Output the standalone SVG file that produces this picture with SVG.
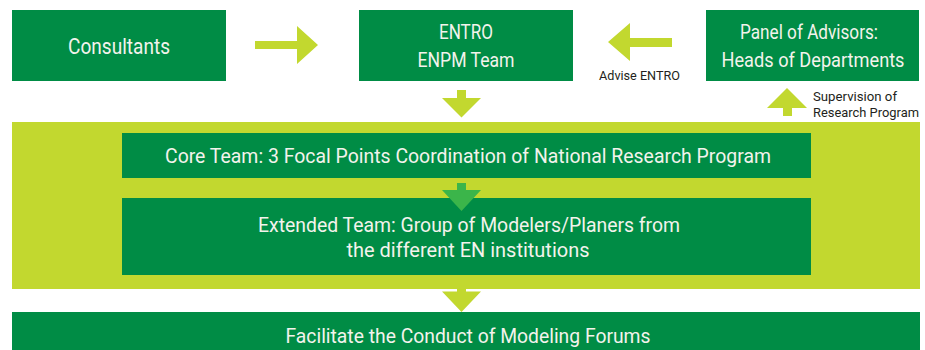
<svg xmlns="http://www.w3.org/2000/svg" width="925" height="350" viewBox="0 0 925 350">
  <defs>
    <style>
      .box { fill: #008C45; }
      .band { fill: #C2D82F; }
      .arrow { fill: #C2D82F; }
      .arrow-in { fill: #3BB54A; }
      .t { font-family: "Roboto", "Liberation Sans", "DejaVu Sans", sans-serif; fill: #F3F3EC; text-anchor: middle; }
      .note { font-family: "Roboto", "Liberation Sans", "DejaVu Sans", sans-serif; fill: #231F20; font-size: 13px; }
    </style>
  </defs>

  <rect width="925" height="350" fill="#FFFFFF"/>

  <!-- background band grouping the research teams -->
  <rect id="team-band" class="band" x="12" y="122" width="908" height="167"/>

  <g id="consultants">
    <rect class="box" x="12" y="10" width="214" height="71"/>
    <text class="t" x="119" y="54" font-size="22" textLength="102" lengthAdjust="spacingAndGlyphs">Consultants</text>
  </g>

  <g id="entro">
    <rect class="box" x="359" y="10" width="214" height="71"/>
    <text class="t" x="466" y="39" font-size="20" textLength="54" lengthAdjust="spacingAndGlyphs">ENTRO</text>
    <text class="t" x="466" y="67" font-size="20" textLength="97" lengthAdjust="spacingAndGlyphs">ENPM Team</text>
  </g>

  <g id="panel">
    <rect class="box" x="706" y="10" width="213" height="71"/>
    <text class="t" x="809" y="39" font-size="20" textLength="138" lengthAdjust="spacingAndGlyphs">Panel of Advisors:</text>
    <text class="t" x="813" y="67" font-size="19.5" textLength="183" lengthAdjust="spacingAndGlyphs">Heads of Departments</text>
  </g>

  <g id="core-team">
    <rect class="box" x="122" y="133" width="689" height="45"/>
    <text class="t" x="468" y="163" font-size="20" textLength="606" lengthAdjust="spacingAndGlyphs">Core Team: 3 Focal Points Coordination of National Research Program</text>
  </g>

  <g id="extended-team">
    <rect class="box" x="122" y="198" width="689" height="77"/>
    <text class="t" x="469" y="232" font-size="20" textLength="422" lengthAdjust="spacingAndGlyphs">Extended Team: Group of Modelers/Planers from</text>
    <text class="t" x="468" y="257" font-size="20" textLength="243" lengthAdjust="spacingAndGlyphs">the different EN institutions</text>
  </g>

  <g id="forums">
    <rect class="box" x="12" y="312" width="908" height="40"/>
    <text class="t" x="468" y="343" font-size="20" textLength="365" lengthAdjust="spacingAndGlyphs">Facilitate the Conduct of Modeling Forums</text>
  </g>

  <g id="connectors">
    <!-- Consultants to ENTRO -->
    <polygon class="arrow" points="255,41 297,41 297,26 318,45 297,64 297,49 255,49"/>
    <!-- Panel advises ENTRO -->
    <polygon class="arrow" points="672,38 630,38 630,23 608,42 630,61 630,47 672,47"/>
    <text class="note" x="599" y="80" textLength="81" lengthAdjust="spacingAndGlyphs">Advise ENTRO</text>
    <!-- research teams report up to the panel -->
    <polygon class="arrow" points="783,116 783,108 767,108 787,88 807,108 792,108 792,116"/>
    <text class="note" x="813" y="101" textLength="84" lengthAdjust="spacingAndGlyphs">Supervision of</text>
    <text class="note" x="813" y="117" textLength="106" lengthAdjust="spacingAndGlyphs">Research Program</text>
    <!-- ENTRO down to the core team -->
    <polygon class="arrow" points="457,90 466,90 466,98 481,98 461.5,117.5 442,98 457,98"/>
    <!-- core team down to the extended team -->
    <polygon class="arrow-in" points="457,183 466,183 466,190 481,190 461.5,211 442,190 457,190"/>
    <!-- extended team down to the forums -->
    <polygon class="arrow" points="457,287 466,287 466,291.5 481,291.5 461.5,312 442,291.5 457,291.5"/>
  </g>
</svg>
